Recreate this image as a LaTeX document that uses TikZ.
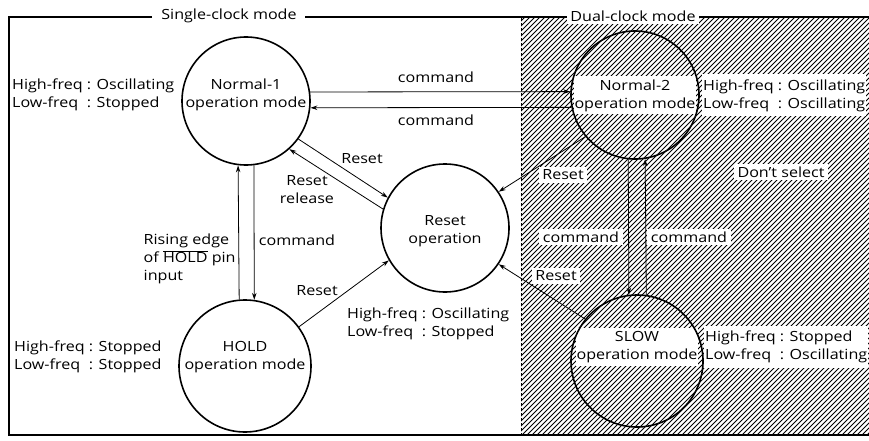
\documentclass[tikz,border=0pt]{standalone}
\usepackage{fontspec}
\setmainfont[FakeStretch=1.15]{Open Sans}
\usetikzlibrary{arrows.meta,calc}
\begin{document}
\begin{tikzpicture}[x=1pt,y=-1pt,
  every node/.style={font=\fontsize{14}{18}\selectfont},
  state/.style={circle, draw, line width=1.6pt, minimum size=128pt, inner sep=0pt},
  bigstate/.style={state, minimum size=132pt},
  txt/.style={inner sep=1.5pt, align=center},
  wtxt/.style={txt, fill=white, inner xsep=3.5pt, inner ysep=3pt},
  side/.style={inner sep=1pt, anchor=west},
  wside/.style={side, fill=white, inner ysep=3pt},
  arr/.style={line width=0.8pt, -{Stealth[length=7pt,width=4.5pt]}},
  frame/.style={line width=2pt},
  hatch/.style={line width=0.75pt}]
\useasboundingbox (0,0) rectangle (869,441);
% hatched dual-clock region
\begin{scope}
  \clip (521,18) rectangle (869,435);
  \foreach \k in {-440,-435,...,880} {
    \draw[hatch] (521+\k,436) -- (521+\k+420,16);
  }
\end{scope}
\draw[line width=0.6pt, dash pattern=on 3pt off 2pt] (521,18) -- (521,435);
% frame
\draw[frame] (152,17) -- (9,17) -- (9,435) -- (869,435);
\draw[frame] (305,17) -- (568,17);
\draw[frame] (698,17) -- (869,17);
\node[txt] (single) at (229,16) {Single-clock mode};
\node[wtxt] (dual) at (633,16) {Dual-clock mode};
% text in states
\node[txt] (t1) at (246,95) {Normal-1\\operation mode};
\node[wtxt, inner xsep=1pt] (t2) at (635,95.5) {Normal-2\\operation mode};
\node[txt] (tr) at (445,231) {Reset\\operation};
\node[txt] (th) at (245,357) {HOLD\\operation mode};
\node[wtxt, inner xsep=1pt] (ts) at (637,347) {SLOW\\operation mode};
% side texts
\node[side] (s1) at (11,95) {\begin{tabular}{@{}l@{ : }l@{}}High-freq & Oscillating\\Low-freq & Stopped\end{tabular}};
\node[wside] (s2) at (702,95.5) {\begin{tabular}{@{}l@{ : }l@{}}High-freq & Oscillating\\Low-freq & Oscillating\end{tabular}};
\node[side] (sr) at (346,324) {\begin{tabular}{@{}l@{ : }l@{}}High-freq & Oscillating\\Low-freq & Stopped\end{tabular}};
\node[side] (sh) at (13,357) {\begin{tabular}{@{}l@{ : }l@{}}High-freq & Stopped\\Low-freq & Stopped\end{tabular}};
\node[wside] (ss) at (704,347) {\begin{tabular}{@{}l@{ : }l@{}}High-freq & Stopped\\Low-freq & Oscillating\end{tabular}};
% connector labels
\node[txt] (c1) at (436,77) {command};
\node[txt] (c2) at (436,120) {command};
\node[txt] (lr1) at (362,159) {Reset};
\node[txt] (lr2) at (307,190) {Reset\\release};
\node[txt, align=left, anchor=west] (rise) at (142,259) {Rising edge\\of $\overline{\mbox{HOLD}}$ pin\\input};
\node[txt] (c3) at (297,240) {command};
\node[txt] (lr3) at (317,291) {Reset};
\node[wtxt] (lr4) at (563,175) {Reset};
\node[wtxt] (lr5) at (556,276) {Reset};
\node[wtxt] (c4) at (581,237) {command};
\node[wtxt] (c5) at (689,237) {command};
\node[wtxt] (dont) at (781,172) {Don't select};
% states
\node[state] (n1) at (246,101) {};
\node[state] (n2) at (635,95) {};
\node[state] (rst) at (445,228) {};
\node[bigstate] (hold) at (245,366) {};
\node[bigstate] (slow) at (637,361) {};
% connectors
\draw[arr] (n1.8.1) -- (n2.177.3);
\draw[arr] (n2.191.7) -- (n1.-6.3);
\draw[arr] (n1.-36.9) -- (rst.152);
\draw[arr] (rst.163) -- (n1.-48);
\draw[arr] (hold.95.4) -- (n1.263.7);
\draw[arr] (n1.277.2) -- (hold.82);
\draw[arr] (hold.36) -- (rst.210.8);
\draw[arr] (n2.220.9) -- (rst.34);
\draw[arr] (slow.141) -- (rst.-34.7);
\draw[arr] (n2.264.6) -- (slow.97.2);
\draw[arr] (slow.82) -- (n2.279.9);
\end{tikzpicture}
\end{document}
